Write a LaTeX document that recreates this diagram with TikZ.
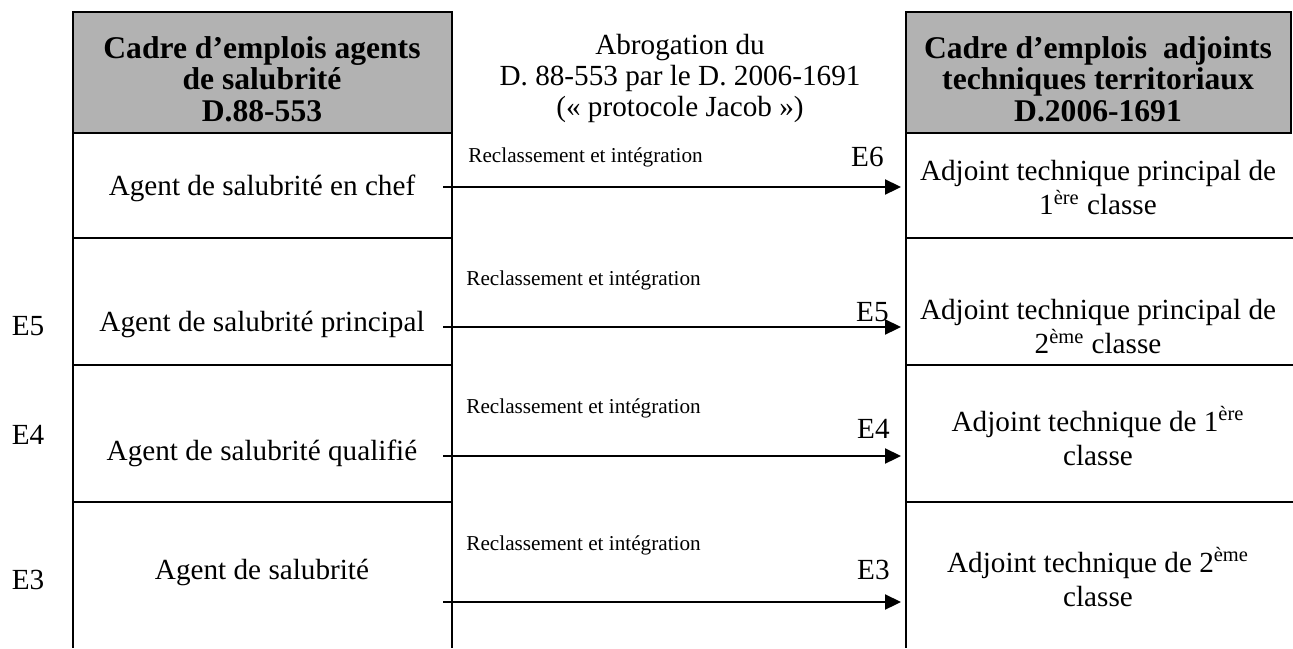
\documentclass[tikz,border=0pt]{standalone}
\usepackage{fontspec}
\setmainfont{Liberation Serif}
\usetikzlibrary{arrows.meta}
\begin{document}
\begin{tikzpicture}[x=0.5pt,y=-0.5pt,
  body/.style={font=\fontsize{14.6}{17}\selectfont, align=center, inner sep=0},
  small/.style={font=\fontsize{10.6}{12}\selectfont, inner sep=0},
  head/.style={font=\fontsize{15.8}{15.8}\bfseries\selectfont, align=center, inner sep=0},
  grade/.style={font=\fontsize{14.6}{17}\selectfont, inner sep=0},
  rule/.style={line width=1pt, draw=black},
  hdr/.style={fill=black!30, draw=black, line width=1pt},
  arr/.style={line width=1.1pt, -{Triangle[length=8pt,width=7.5pt]}}]
\useasboundingbox (0,0) rectangle (1293,648);
% header boxes
\path[hdr] (73,12) rectangle (452,133);
\path[hdr] (906,12) rectangle (1291,133);
% table borders
\draw[rule] (73,133) -- (73,648);
\draw[rule] (452,133) -- (452,648);
\draw[rule] (906,133) -- (906,648);
\foreach \y in {238,365,502} {
  \draw[rule] (73,\y) -- (452,\y);
  \draw[rule] (906,\y) -- (1293,\y);
}
% headers
\node[head] (hL) at (262,79) {Cadre d’emplois agents\\de salubrité\\D.88-553};
\node[body, font=\fontsize{14.6}{15.5}\selectfont] (hM) at (680,78) {Abrogation du\\D. 88-553 par le D. 2006-1691\\(« protocole Jacob »)};
\node[head] (hR) at (1098,79) {Cadre d’emplois\ \ adjoints\\techniques territoriaux\\D.2006-1691};
% left cells
\node[body] (L1) at (262,188) {Agent de salubrité en chef};
\node[body] (L2) at (262,324) {Agent de salubrité principal};
\node[body] (L3) at (262,453) {Agent de salubrité qualifié};
\node[body] (L4) at (262,572) {Agent de salubrité};
% right cells
\node[body] (R1) at (1098,188) {Adjoint technique principal de\\1\textsuperscript{ère} classe};
\node[body] (R2) at (1098,327) {Adjoint technique principal de\\2\textsuperscript{ème} classe};
\node[body] (R3) at (1098,436) {Adjoint technique de 1\textsuperscript{ère}\\classe};
\node[body] (R4) at (1098,577) {Adjoint technique de 2\textsuperscript{ème}\\classe};
% left grades
\node[grade] (gL2) at (28,326) {E5};
\node[grade] (gL3) at (28,435) {E4};
\node[grade] (gL4) at (28,580) {E3};
% arrows
\foreach \i/\y in {1/187,2/327,3/456,4/602} {
  \coordinate (s\i) at (443,\y);
  \coordinate (e\i) at (901,\y);
  \draw[arr] (s\i) -- (e\i);
}
% labels over arrows
\node[small, anchor=west] (t1) at (468,157) {Reclassement et intégration};
\node[small, anchor=west] (t2) at (466,280) {Reclassement et intégration};
\node[small, anchor=west] (t3) at (466,408) {Reclassement et intégration};
\node[small, anchor=west] (t4) at (466,545) {Reclassement et intégration};
\node[grade, anchor=east] (g1) at (884,157) {E6};
\node[grade, anchor=east] (g2) at (889,312) {E5};
\node[grade, anchor=east] (g3) at (890,429) {E4};
\node[grade, anchor=east] (g4) at (890,570) {E3};
\end{tikzpicture}
\end{document}
